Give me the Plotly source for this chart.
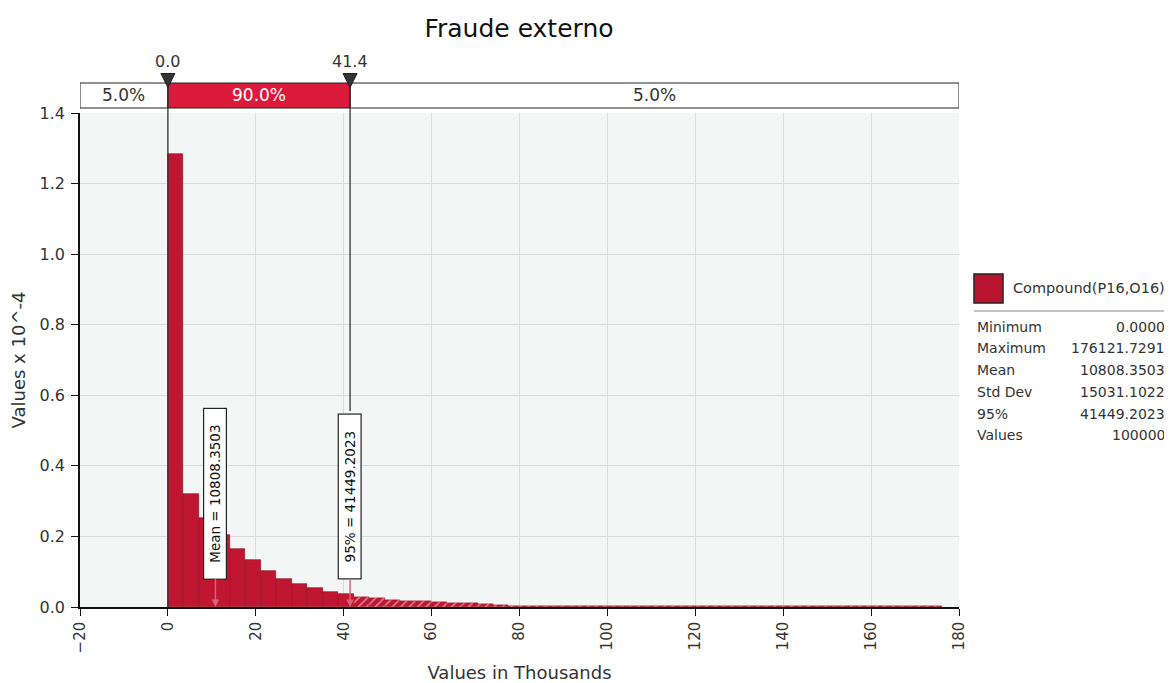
import plotly.graph_objects as go

# ---------------- data ----------------
title = "Fraude externo"
series_name = "Compound(P16,O16)"
x_min_val = 0.0            # thousands
x_max_val = 176.1217291    # thousands
n_bins = 50
# density values (x 10^-4) for each bin
heights = [1.285, 0.319, 0.251, 0.205, 0.164, 0.132, 0.101, 0.080, 0.065, 0.055,
           0.043, 0.036, 0.029, 0.025, 0.021, 0.018, 0.016, 0.013, 0.011, 0.010,
           0.008, 0.007, 0.004, 0.004, 0.004, 0.004, 0.004, 0.004, 0.004, 0.004,
           0.004, 0.004, 0.004, 0.004, 0.004, 0.004, 0.004, 0.004, 0.004, 0.004,
           0.004, 0.004, 0.004, 0.004, 0.004, 0.004, 0.004, 0.004, 0.004, 0.004]
lower_mark = 0.0
upper_mark = 41.4492023
mean_val = 10.8083503
pct_left = "5.0%"
pct_mid = "90.0%"
pct_right = "5.0%"
stat_labels = ["Minimum", "Maximum", "Mean", "Std Dev", "95%", "Values"]
stat_values = ["0.0000", "176121.7291", "10808.3503", "15031.1022", "41449.2023", "100000"]
x_ticks = [-20, 0, 20, 40, 60, 80, 100, 120, 140, 160, 180]
y_ticks = [0.0, 0.2, 0.4, 0.6, 0.8, 1.0, 1.2, 1.4]

# ---------------- derived ----------------
bin_w = (x_max_val - x_min_val) / n_bins
centers = [x_min_val + bin_w * (i + 0.5) for i in range(n_bins)]
solid_idx = [i for i in range(n_bins) if centers[i] - bin_w / 2 < upper_mark]
hatch_idx = [i for i in range(n_bins) if centers[i] - bin_w / 2 >= upper_mark]

FONT = "DejaVu Sans"
RED = "#C01631"
BAR_RED = "#DC1A3C"
TXT = "#333333"
W, H = 1164, 675

fig = go.Figure()
fig.add_trace(go.Bar(
    x=[centers[i] for i in solid_idx], y=[heights[i] for i in solid_idx],
    width=bin_w, marker=dict(color=RED, line=dict(color="#8A0F22", width=0.6)),
    showlegend=False, hoverinfo="x+y"))
fig.add_trace(go.Bar(
    x=[centers[i] for i in hatch_idx], y=[heights[i] for i in hatch_idx],
    width=bin_w,
    marker=dict(color=RED, line=dict(color="#8A0F22", width=0.4),
                pattern=dict(shape="/", fgcolor="white", fillmode="overlay",
                             size=6, solidity=0.25)),
    showlegend=False, hoverinfo="x+y"))

shapes = []
annots = []


def px_x(px):
    return (px - 80) / 879.0


def px_y(py):
    return (607 - py) / 494.0


# top percentage bar
yb0, yb1 = px_y(108), px_y(83)
for (a, b, col) in [(x_ticks[0], lower_mark, "white"), (lower_mark, upper_mark, BAR_RED),
                    (upper_mark, x_ticks[-1], "white")]:
    shapes.append(dict(type="rect", xref="x", yref="paper", x0=a, x1=b, y0=yb0, y1=yb1,
                       fillcolor=col, line=dict(color="#222222", width=1), layer="above"))
for (xc, txt, col) in [((x_ticks[0] + lower_mark) / 2, pct_left, TXT),
                       ((lower_mark + upper_mark) / 2, pct_mid, "white"),
                       ((upper_mark + x_ticks[-1]) / 2, pct_right, TXT)]:
    annots.append(dict(x=xc, y=(yb0 + yb1) / 2, xref="x", yref="paper", text=txt,
                       yanchor="middle", xanchor="center",
                       showarrow=False, font=dict(family=FONT, size=17, color=col)))

# vertical marker lines
shapes.append(dict(type="line", xref="x", yref="paper", x0=lower_mark, x1=lower_mark,
                   y0=0, y1=yb1, line=dict(color="#333333", width=1.3), layer="above"))
shapes.append(dict(type="line", xref="x", yref="paper", x0=upper_mark, x1=upper_mark,
                   y0=px_y(411), y1=yb1, line=dict(color="#333333", width=1.3), layer="above"))

# triangles + labels above
tw = 1.6
for xm, lab in [(lower_mark, "0.0"), (upper_mark, "41.4")]:
    shapes.append(dict(type="path", xref="x", yref="paper",
                       path=f"M {xm - tw} {px_y(73.5)} L {xm + tw} {px_y(73.5)} L {xm} {px_y(87.5)} Z",
                       fillcolor="#333333", line=dict(color="#222222", width=1), layer="above"))
    annots.append(dict(x=xm, y=px_y(61.5), xref="x", yref="paper", text=lab, showarrow=False,
                       yanchor="middle", xanchor="center",
                       font=dict(family=FONT, size=16, color=TXT)))

# mean / 95% callouts
for xv, txt, off in [(mean_val, "Mean = 10808.3503", -113.6), (upper_mark, "95% = 41449.2023", -110.6)]:
    annots.append(dict(x=xv, y=0, xref="x", yref="y", text="   " + txt + "   ", textangle=-90,
                       showarrow=True, ax=0, ay=off, axref="pixel", ayref="pixel",
                       arrowhead=2, arrowsize=1, arrowwidth=1.5, arrowcolor="#E0607A",
                       bgcolor="white", bordercolor="#222222", borderwidth=1.2, borderpad=3,
                       font=dict(family=FONT, size=13.5, color="#111111")))

# legend-like statistics panel
shapes.append(dict(type="rect", xref="paper", yref="paper", x0=px_x(974), x1=px_x(1003),
                   y0=px_y(303), y1=px_y(274), fillcolor="#B8142E",
                   line=dict(color="#222222", width=1.5)))
annots.append(dict(x=px_x(1011), y=px_y(288), xref="paper", yref="paper", text=series_name,
                   xanchor="left", yanchor="middle", showarrow=False,
                   font=dict(family=FONT, size=14.5, color=TXT)))
shapes.append(dict(type="line", xref="paper", yref="paper", x0=px_x(974), x1=px_x(1172),
                   y0=px_y(311), y1=px_y(311), line=dict(color="#888888", width=1)))
for k, (lab, val) in enumerate(zip(stat_labels, stat_values)):
    yy = px_y(326.7 + 21.7 * k)
    annots.append(dict(x=px_x(975), y=yy, xref="paper", yref="paper", text=lab, xanchor="left",
                       yanchor="middle", showarrow=False,
                       font=dict(family=FONT, size=14, color=TXT)))
    annots.append(dict(x=px_x(1167), y=yy, xref="paper", yref="paper", text=val, xanchor="right",
                       yanchor="middle", showarrow=False,
                       font=dict(family=FONT, size=14, color=TXT)))

fig.update_layout(
    width=W, height=H,
    margin=dict(l=72, r=W - 951, t=105, b=H - 599, autoexpand=False),
    paper_bgcolor="white", plot_bgcolor="#F4F6F6",
    title=dict(text=title, x=511 / W, xanchor="center", y=1 - 20 / H, yanchor="middle",
               font=dict(family=FONT, size=25, color="#111111")),
    barmode="overlay", bargap=0,
    shapes=shapes, annotations=annots,
    font=dict(family=FONT, color=TXT),
    xaxis=dict(range=[x_ticks[0], x_ticks[-1]], tickvals=x_ticks, tickangle=-90,
               automargin=False,
               showgrid=True, gridcolor="#DADCDC", zeroline=False,
               showline=True, linecolor="#111111", linewidth=1.5,
               ticks="outside", ticklen=7, tickcolor="#111111",
               tickfont=dict(family=FONT, size=15, color=TXT),
               title=dict(text="Values in Thousands", standoff=16,
                          font=dict(family=FONT, size=18, color=TXT))),
    yaxis=dict(range=[0, 1.4], tickvals=y_ticks, tickformat=".1f",
               automargin=False,
               showgrid=True, gridcolor="#DADCDC", zeroline=False,
               showline=True, linecolor="#111111", linewidth=1.5,
               ticks="outside", ticklen=7, tickcolor="#111111",
               ticklabelstandoff=3,
               tickfont=dict(family=FONT, size=16, color=TXT),
               title=dict(text="Values x 10^-4", standoff=12,
                          font=dict(family=FONT, size=18, color=TXT))),
)

fig.write_html("out.html")
